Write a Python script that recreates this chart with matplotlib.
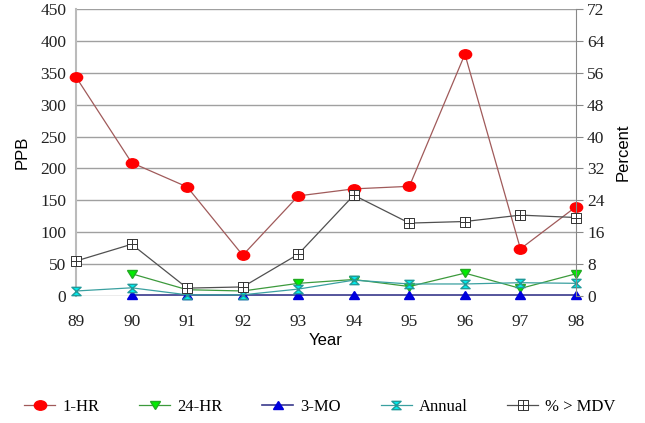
import matplotlib.pyplot as plt
from matplotlib.path import Path
from matplotlib.markers import MarkerStyle
from matplotlib.transforms import Affine2D

years = [89, 90, 91, 92, 93, 94, 95, 96, 97, 98]
hr1 = [343, 209, 171, 64, 157, 168, 172, 379, 74, 140]
hr24_years = [90, 91, 92, 93, 94, 95, 96, 97, 98]
hr24 = [35, 10, 8, 20, 26, 15, 36, 12, 35]
mo3_years = [90, 91, 92, 93, 94, 95, 96, 97, 98]
mo3 = [1, 1, 1, 1, 1, 1, 1, 1, 1]
annual = [8, 13, 2, 2, 11, 25, 19, 19, 21, 20]
pct_mdv = [8.8, 13.0, 2.0, 2.3, 10.5, 25.3, 18.3, 18.7, 20.3, 19.7]

serif = "Liberation Serif"
sans = "Liberation Sans"

hourglass = Path([(-1, 1), (1, 1), (-1, -1), (1, -1), (-1, 1)],
                 [Path.MOVETO, Path.LINETO, Path.LINETO, Path.LINETO, Path.CLOSEPOLY])
boxplus = Path([(-1, -1), (1, -1), (1, 1), (-1, 1), (-1, -1),
                (-1, 0), (1, 0), (0, -1), (0, 1)],
               [Path.MOVETO, Path.LINETO, Path.LINETO, Path.LINETO, Path.CLOSEPOLY,
                Path.MOVETO, Path.LINETO, Path.MOVETO, Path.LINETO])


def wide(m, sx):
    # the original picture is a bit stretched sideways
    return MarkerStyle(m, transform=Affine2D().scale(sx, 1))


fig = plt.figure(figsize=(6.45, 4.23), dpi=100)
ax = fig.add_axes([0.118, 0.300, 0.775, 0.679])
ax2 = ax.twinx()

l1, = ax.plot(years, hr1, color="#a05a5a", lw=0.9, marker=wide("o", 1.3), ms=6.8,
              mfc="#ff0000", mec="#ff0000", label="1-HR", zorder=5, clip_on=False)
l2, = ax.plot(hr24_years, hr24, color="#3c9a3c", lw=0.9, marker=wide("v", 1.3), ms=6,
              mfc="#00ee00", mec="#22aa22", label="24-HR", zorder=4, clip_on=False)
l3, = ax.plot(mo3_years, mo3, color="#3a3a8c", lw=1.2, marker=wide("^", 1.3), ms=6,
              mfc="#0000dd", mec="#0000dd", label="3-MO", zorder=4, clip_on=False)
l4, = ax.plot(years, annual, color="#3aa0a0", lw=0.9, marker=wide(hourglass, 1.1), ms=6,
              mfc="#00eeee", mec="#229999", label="Annual", zorder=4, clip_on=False)
l5, = ax2.plot(years, pct_mdv, color="#505050", lw=0.9, marker=wide(boxplus, 1.15), ms=6.5,
               mfc="white", mec="#333333", mew=0.7, label="% > MDV", zorder=3,
               clip_on=False)

ax.set_xlim(89, 98)
ax.set_ylim(0, 450)
ax2.set_ylim(0, 72)
ax.set_yticks(range(0, 451, 50))
ax2.set_yticks(range(0, 73, 8))
ax.set_xticks(years)
ax.set_xticklabels([str(y) for y in years])
ax.yaxis.grid(True, color="#a0a0a0", lw=1.0)
ax.set_axisbelow(True)

for a in (ax, ax2):
    for s in a.spines.values():
        s.set_visible(False)
ax.spines["left"].set_visible(True)
ax.spines["left"].set_color("#bbbbbb")
ax.spines["left"].set_linewidth(1.5)
ax2.spines["right"].set_visible(True)
ax2.spines["right"].set_color("#888888")

ax.tick_params(axis="y", length=0, pad=7, labelsize=12.5)
ax.tick_params(axis="x", length=0, pad=13, labelsize=12.5)
ax2.tick_params(axis="y", length=5, color="#888888", pad=3, labelsize=12.5)
for lab in ax.get_xticklabels() + ax.get_yticklabels() + ax2.get_yticklabels():
    lab.set_fontfamily(serif)
    lab.set_color("#222222")

ax.set_ylabel("PPB", fontfamily=sans, fontsize=12, labelpad=8)
ax2.set_ylabel("Percent", fontfamily=sans, fontsize=12, labelpad=8)
ax.set_xlabel("Year", fontfamily=sans, fontsize=12, labelpad=2)

fig.legend(handles=[l1, l2, l3, l4, l5], loc="center left",
           bbox_to_anchor=(0.025, 0.038), borderpad=0,
           ncol=5, frameon=False, prop={"family": serif, "size": 12},
           handlelength=1.85, columnspacing=2.4, handletextpad=0.42)

fig.savefig("out.png", dpi=100)
